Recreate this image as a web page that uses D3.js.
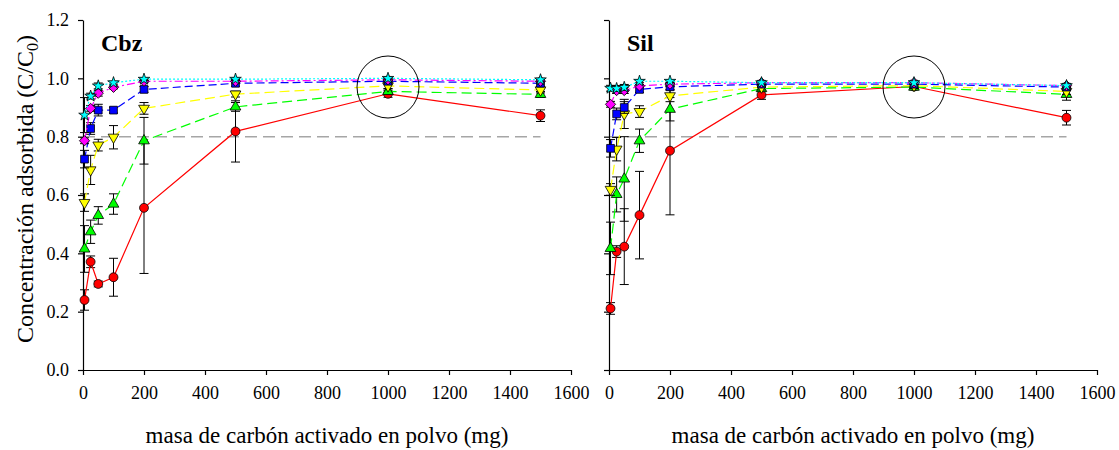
<!DOCTYPE html>
<html><head><meta charset="utf-8">
<script src="https://cdn.jsdelivr.net/npm/d3@7"></script>
<style>body{margin:0;background:#fff}svg{display:block}</style>
</head><body>
<svg id="c" width="1119" height="450"></svg>
<script>
// ---- data ----
const masses = [5, 25, 50, 100, 200, 500, 1000, 1500];
const xTicks = [0, 200, 400, 600, 800, 1000, 1200, 1400, 1600];
const yTicks = [0, 0.2, 0.4, 0.6, 0.8, 1.0, 1.2];
const panelTitles = ["Cbz", "Sil"];
const refLevel = 0.8;
const circleMass = 1000;

// Cbz panel
const cbzRed      = [0.24, 0.371, 0.295, 0.318, 0.556, 0.818, 0.947, 0.872];
const cbzRedErr   = [0.035, 0.02, 0.01, 0.065, 0.225, 0.105, 0.012, 0.02];
const cbzGreen    = [0.415, 0.474, 0.53, 0.569, 0.786, 0.902, 0.955, 0.945];
const cbzGreenErr = [0.08, 0.04, 0.03, 0.035, 0.08, 0.015, 0.01, 0.01];
const cbzYellow   = [0.574, 0.686, 0.771, 0.798, 0.897, 0.946, 0.974, 0.96];
const cbzYellowErr= [0.03, 0.05, 0.02, 0.04, 0.02, 0.01, 0.01, 0.01];
const cbzBlue     = [0.723, 0.828, 0.891, 0.891, 0.962, 0.983, 0.99, 0.983];
const cbzBlueErr  = [0.03, 0.02, 0.02, 0.01, 0.01, 0.01, 0.005, 0.01];
const cbzMagenta  = [0.786, 0.897, 0.949, 0.969, 0.99, 0.99, 0.995, 0.99];
const cbzMagentaErr=[0.01, 0.01, 0.01, 0.005, 0.005, 0.005, 0.005, 0.005];
const cbzCyan     = [0.874, 0.939, 0.974, 0.985, 0.997, 0.997, 1.0, 0.995];
const cbzCyanErr  = [0.06, 0.01, 0.01, 0.005, 0.005, 0.005, 0.005, 0.005];

// Sil panel
const silRed      = [0.211, 0.406, 0.423, 0.531, 0.752, 0.943, 0.972, 0.865];
const silRedErr   = [0.02, 0.02, 0.13, 0.15, 0.22, 0.015, 0.01, 0.025];
const silGreen    = [0.417, 0.602, 0.655, 0.786, 0.894, 0.965, 0.97, 0.945];
const silGreenErr = [0.09, 0.06, 0.145, 0.04, 0.04, 0.01, 0.01, 0.02];
const silYellow   = [0.619, 0.757, 0.878, 0.886, 0.94, 0.97, 0.975, 0.955];
const silYellowErr= [0.02, 0.04, 0.05, 0.02, 0.02, 0.01, 0.01, 0.01];
const silBlue     = [0.76, 0.878, 0.9, 0.962, 0.971, 0.98, 0.98, 0.97];
const silBlueErr  = [0.03, 0.02, 0.02, 0.01, 0.01, 0.01, 0.01, 0.01];
const silMagenta  = [0.911, 0.958, 0.958, 0.974, 0.98, 0.985, 0.985, 0.975];
const silMagentaErr=[0.01, 0.01, 0.01, 0.005, 0.005, 0.005, 0.005, 0.005];
const silCyan     = [0.966, 0.965, 0.969, 0.99, 0.99, 0.985, 0.985, 0.975];
const silCyanErr  = [0.01, 0.01, 0.01, 0.005, 0.005, 0.005, 0.005, 0.005];

// ---- styles ----
const styles = [
  {color: "#ff0000", dash: null,        sym: d3.symbolCircle,   size: 62, rot: 0},
  {color: "#00ff00", dash: "10,5",      sym: d3.symbolTriangle, size: 50, rot: 0},
  {color: "#ffff00", dash: "10,5",      sym: d3.symbolTriangle, size: 50, rot: 180},
  {color: "#0000ff", dash: "8,4",       sym: d3.symbolSquare,   size: 60, rot: 0},
  {color: "#ff00ff", dash: "8,3,2,3",   sym: d3.symbolSquare,   size: 52, rot: 45},
  {color: "#00ffff", dash: "2,2",       sym: d3.symbolStar,     size: 42, rot: 0}
];

const panels = [
  {title: panelTitles[0], x0: 83, showYLabels: true,
   series: [[cbzRed, cbzRedErr], [cbzGreen, cbzGreenErr], [cbzYellow, cbzYellowErr],
            [cbzBlue, cbzBlueErr], [cbzMagenta, cbzMagentaErr], [cbzCyan, cbzCyanErr]]},
  {title: panelTitles[1], x0: 609, showYLabels: false,
   series: [[silRed, silRedErr], [silGreen, silGreenErr], [silYellow, silYellowErr],
            [silBlue, silBlueErr], [silMagenta, silMagentaErr], [silCyan, silCyanErr]]}
];

const svg = d3.select("#c");
const font = "'Liberation Serif','Times New Roman',serif";
const y = d3.scaleLinear().domain([0, 1.2]).range([370, 20]);

panels.forEach(p => {
  const x = d3.scaleLinear().domain([0, 1600]).range([p.x0, p.x0 + 488]);
  const g = svg.append("g");

  // reference dashed line at 0.8
  g.append("line")
    .attr("x1", x(0)).attr("x2", x(1500))
    .attr("y1", y(refLevel)).attr("y2", y(refLevel))
    .attr("stroke", "#a6a6a6").attr("stroke-width", 1.5)
    .attr("stroke-dasharray", "12,6");

  // axes
  const xAxis = g.append("g").attr("transform", `translate(0,${y(0)})`)
    .call(d3.axisBottom(x).tickValues(xTicks).tickSize(5).tickPadding(11).tickSizeOuter(0).tickFormat(d3.format("d")));
  const yAxis = g.append("g").attr("transform", `translate(${p.x0},0)`)
    .call(d3.axisLeft(y).tickValues(yTicks).tickSize(5).tickPadding(9).tickSizeOuter(0).tickFormat(d3.format(".1f")));
  [xAxis, yAxis].forEach(a => {
    a.select(".domain").attr("stroke", "#000").attr("stroke-width", 1.2);
    a.selectAll(".tick line").attr("stroke", "#000").attr("stroke-width", 1.2);
    a.selectAll("text").attr("font-family", font).attr("font-size", 18).attr("fill", "#000");
  });
  if (!p.showYLabels) yAxis.selectAll("text").remove();

  // x axis title
  g.append("text").attr("x", x(800)).attr("y", 443)
    .attr("text-anchor", "middle").attr("font-family", font).attr("font-size", 23)
    .text("masa de carbón activado en polvo (mg)");

  // panel title
  g.append("text").attr("x", p.x0 + 18).attr("y", 51)
    .attr("font-family", font).attr("font-size", 24).attr("font-weight", "bold")
    .text(p.title);

  // series
  p.series.forEach((s, i) => {
    const st = styles[i];
    const vals = s[0], errs = s[1];
    const pts = masses.map((m, k) => ({m, v: vals[k], e: errs[k]}));
    const sg = g.append("g");
    // error bars
    pts.forEach(d => {
      const eg = sg.append("g").attr("stroke", "#000").attr("stroke-width", 1);
      eg.append("line").attr("x1", x(d.m)).attr("x2", x(d.m)).attr("y1", y(d.v - d.e)).attr("y2", y(d.v + d.e));
      [d.v - d.e, d.v + d.e].forEach(ev => {
        eg.append("line").attr("x1", x(d.m) - 4.5).attr("x2", x(d.m) + 4.5).attr("y1", y(ev)).attr("y2", y(ev));
      });
    });
    // line
    sg.append("path").datum(pts)
      .attr("fill", "none").attr("stroke", st.color).attr("stroke-width", 1.2)
      .attr("stroke-dasharray", st.dash)
      .attr("d", d3.line().x(d => x(d.m)).y(d => y(d.v)));
    // markers
    sg.selectAll("path.mk").data(pts).enter().append("path")
      .attr("class", "mk")
      .attr("d", d3.symbol().type(st.sym).size(st.size))
      .attr("transform", d => `translate(${x(d.m)},${y(d.v)}) rotate(${st.rot})`)
      .attr("fill", st.color).attr("stroke", "#000").attr("stroke-width", 0.8);
  });

  // highlight circle
  g.append("circle").attr("cx", x(circleMass)).attr("cy", 87).attr("r", 31)
    .attr("fill", "none").attr("stroke", "#000").attr("stroke-width", 1);
});

// y axis title
svg.append("text")
  .attr("transform", "translate(33,189) rotate(-90)")
  .attr("text-anchor", "middle").attr("font-family", font).attr("font-size", 24)
  .call(t => {
    t.append("tspan").text("Concentración adsorbida (C/C");
    t.append("tspan").attr("font-size", 16).attr("dy", 5).text("0");
    t.append("tspan").attr("dy", -5).text(")");
  });
</script>
</body></html>
